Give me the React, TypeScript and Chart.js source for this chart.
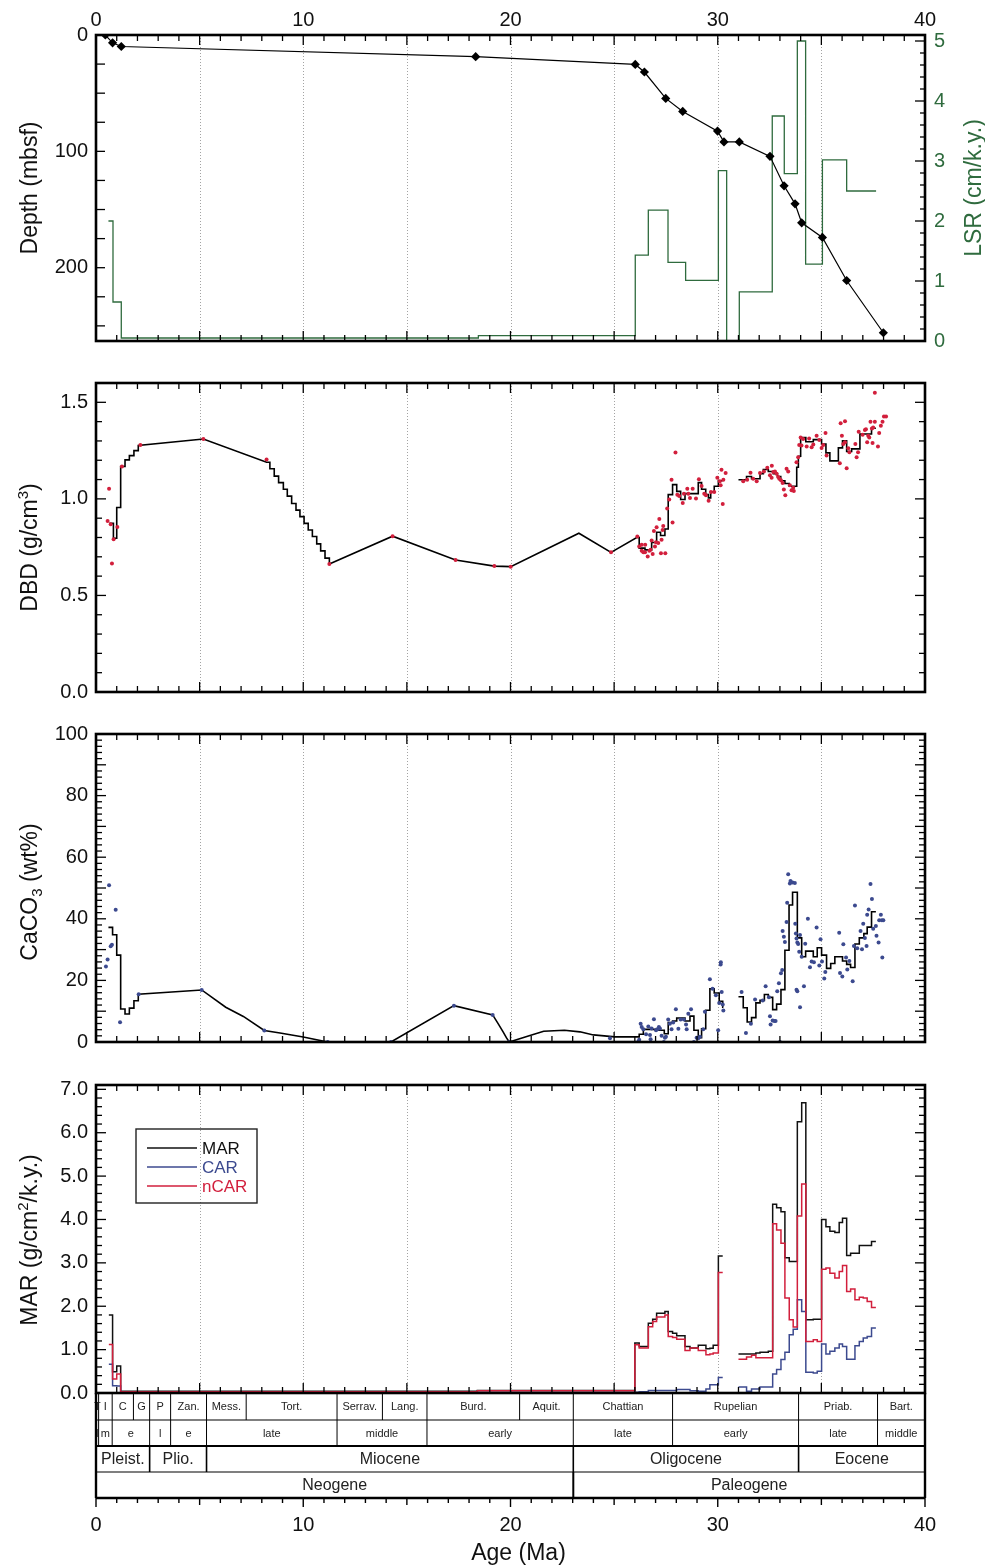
import React, { useEffect, useRef } from 'react';
import { Chart, registerables } from 'chart.js';

Chart.register(...registerables);

const FONT = '"Liberation Sans", Arial, Helvetica, sans-serif';
const W = 985;
const GREEN = '#2f6b3e';
const RED = '#d21f3c';
const BLUE = '#3c4a8f';

// ---------------- axis / tick values ----------------
const ageTicks = [0, 10, 20, 30, 40];
const gridAges = [5, 10, 15, 20, 25, 30, 35];

// ---------------- Panel 1: age-depth & LSR ----------------
const depthAge = [0.45, 0.8, 1.22, 18.32, 26.02, 26.46, 27.49, 28.31, 29.99, 30.3, 31.04, 32.52, 33.2, 33.73, 34.05, 35.05, 36.22, 37.99];
const depthMbsf = [0, 6.7, 9.9, 18.6, 25.3, 31.8, 54.5, 65.7, 82.6, 91.9, 91.9, 104.3, 129.6, 145.1, 161.4, 174, 211, 255.9];
const lsrEdges = [0.6, 0.82, 1.22, 18.45, 26.02, 26.65, 27.6, 28.45, 30.03, 30.43, 31.04, 32.63, 33.21, 33.84, 34.24, 35.05, 36.22, 37.64];
const lsrRate = [2.0, 0.65, 0.05, 0.09, 1.43, 2.18, 1.31, 1.01, 2.84, 0.0, 0.82, 3.75, 2.79, 5.0, 1.28, 3.02, 2.5];

// ---------------- Panel 2: DBD ----------------
const dbdEarlyEdges = [0.64, 0.84, 1.0, 1.19, 1.4, 1.61, 1.83, 2.04];
const dbdEarlyVals = [0.873, 0.796, 0.955, 1.168, 1.202, 1.224, 1.25];
const dbdMioAge1 = [2.04, 5.18, 8.23];
const dbdMioVal1 = [1.276, 1.31, 1.19];
const dbdTortEdges = [8.23, 8.39, 8.6, 8.81, 9.04, 9.23, 9.44, 9.65, 9.84, 10.04, 10.24, 10.44, 10.65, 10.84, 11.05, 11.26];
const dbdTortVals = [1.19, 1.156, 1.118, 1.084, 1.05, 1.014, 0.976, 0.942, 0.908, 0.873, 0.839, 0.805, 0.767, 0.731, 0.693];
const dbdMioAge2 = [11.26, 14.31, 17.35, 19.22, 20.01, 23.3, 24.85, 26.09];
const dbdMioVal2 = [0.663, 0.807, 0.683, 0.652, 0.649, 0.822, 0.723, 0.8];
const dbdOligEdges = [26.09, 26.21, 26.49, 26.81, 27.05, 27.24, 27.45, 27.61, 27.82, 28.02, 28.21, 28.42, 29.06, 29.22, 29.42, 29.55, 29.66, 29.83, 30.03, 30.24];
const dbdOligVals = [0.8, 0.745, 0.736, 0.774, 0.827, 0.81, 0.844, 1.022, 1.074, 1.039, 0.997, 1.027, 1.084, 1.05, 1.022, 1.005, 1.036, 1.065, 1.094];
const dbdEoEdges = [31.0, 31.39, 31.63, 32.04, 32.2, 32.44, 32.68, 32.88, 33.04, 33.24, 33.45, 33.81, 33.89, 34.0, 34.25, 34.61, 35.01, 35.22, 35.41, 35.82, 36.02, 36.22, 36.46, 36.86, 37.42, 37.63];
const dbdEoVals = [1.099, 1.116, 1.104, 1.13, 1.152, 1.142, 1.13, 1.115, 1.094, 1.08, 1.065, 1.164, 1.221, 1.318, 1.296, 1.307, 1.284, 1.238, 1.197, 1.264, 1.301, 1.245, 1.259, 1.336, 1.366];
const dbdSamples: [number, number][] = [
  [0.56, 0.885], [0.63, 1.053], [0.71, 0.868], [0.77, 0.666], [0.85, 0.791], [1.03, 0.854], [1.25, 1.168], [2.14, 1.279], [5.18, 1.31], [8.23, 1.204], [11.26, 0.663], [14.31, 0.807], [17.35, 0.683], [19.22, 0.652], [20.01, 0.649], [24.85, 0.723],
  [26.12, 0.805], [26.21, 0.753], [26.33, 0.762], [26.33, 0.731], [26.41, 0.724], [26.5, 0.762], [26.49, 0.724], [26.62, 0.702], [26.7, 0.731], [26.76, 0.736], [26.81, 0.784], [26.86, 0.714], [26.97, 0.753], [27.02, 0.776], [27.13, 0.771], [27.18, 0.896], [27.26, 0.719], [27.29, 0.788], [26.92, 0.834], [27.05, 0.853], [27.34, 0.839], [27.37, 0.86], [27.47, 0.719], [27.56, 0.95], [27.66, 0.997], [27.77, 1.099], [27.82, 0.878], [27.96, 1.24], [28.05, 1.022], [28.14, 1.015], [28.31, 0.979], [28.37, 1.027], [28.53, 1.053], [28.58, 1.027], [28.66, 1.005], [28.79, 1.053], [28.95, 1.002], [29.09, 1.101], [29.22, 1.067], [29.35, 1.027], [29.43, 1.019], [29.56, 0.99], [29.67, 1.036], [29.83, 1.036], [29.98, 1.11], [30.1, 1.091], [30.14, 1.07], [30.18, 1.151], [30.24, 0.974], [30.27, 1.099], [30.38, 1.134],
  [31.23, 1.091], [31.42, 1.099], [31.58, 1.135], [31.71, 1.104], [31.88, 1.091], [32.04, 1.134], [32.23, 1.142], [32.39, 1.161], [32.61, 1.171], [32.52, 1.122], [32.6, 1.11], [32.68, 1.139], [32.76, 1.142], [32.84, 1.13], [32.92, 1.113], [32.97, 1.104], [33.05, 1.096], [33.13, 1.082], [33.19, 1.048], [33.26, 1.019], [33.32, 1.156], [33.4, 1.142], [33.48, 1.07], [33.56, 1.045], [33.67, 1.041], [33.64, 1.057], [33.8, 1.19], [33.88, 1.216], [33.93, 1.279], [34.0, 1.318], [34.04, 1.276], [34.12, 1.31], [34.29, 1.271], [34.41, 1.313], [34.53, 1.267], [34.61, 1.281], [34.77, 1.327], [34.9, 1.305], [35.01, 1.264], [35.09, 1.279], [35.2, 1.341], [35.25, 1.224], [35.89, 1.185], [35.93, 1.392], [35.99, 1.327], [36.14, 1.402], [36.06, 1.284], [36.14, 1.293], [36.22, 1.159], [36.3, 1.262], [36.35, 1.241], [36.64, 1.284], [36.7, 1.216], [36.77, 1.241], [36.8, 1.348], [36.99, 1.332], [37.1, 1.356], [37.15, 1.361], [37.21, 1.293], [37.26, 1.327], [37.31, 1.318], [37.37, 1.399], [37.44, 1.365], [37.47, 1.289], [37.5, 1.37], [37.58, 1.399], [37.58, 1.55], [37.73, 1.271], [37.79, 1.341], [37.87, 1.378], [37.95, 1.399], [38.02, 1.426], [38.12, 1.426],
];

// ---------------- Panel 3: CaCO3 ----------------
const caEarlyEdges = [0.6, 0.8, 1.0, 1.19, 1.4, 1.61, 1.83, 2.04];
const caEarlyVals = [37.2, 34.8, 28.2, 10.7, 9.1, 11.0, 13.4];
const caMioAge = [2.04, 5.1, 6.26, 7.11, 8.12, 8.88, 10.0, 11.18, 14.23, 17.27, 19.14, 19.41, 19.65, 19.8, 19.94, 20.94, 21.6, 22.6, 23.35, 24.0, 25.04, 26.0];
const caMioVal = [15.5, 16.9, 11.3, 8.3, 3.75, 2.9, 1.6, 0, 0, 11.8, 8.8, 5.9, 3.2, 1.4, 0, 2.1, 3.5, 3.8, 3.3, 2.3, 1.66, 1.66];
const caOligEdges = [26.0, 26.21, 26.41, 27.05, 27.42, 27.61, 27.82, 28.02, 28.42, 28.66, 28.85, 29.06, 29.22, 29.42, 29.62, 29.83, 30.07, 30.24, 30.27];
const caOligVals = [1.66, 2.5, 4.1, 3.8, 2.7, 6.3, 6.8, 7.8, 6.8, 8.4, 3.8, 1.4, 4.3, 10.3, 17.3, 15.9, 13.2, 11.3];
const caEoEdges = [31.0, 31.23, 31.42, 31.63, 31.84, 32.04, 32.25, 32.44, 32.65, 32.84, 33.05, 33.24, 33.44, 33.61, 33.84, 34.05, 34.24, 34.61, 34.8, 35.01, 35.25, 35.45, 35.65, 36.02, 36.22, 36.41, 36.62, 36.83, 37.05, 37.21, 37.42, 37.63];
const caEoVals = [14.7, 11.1, 6.5, 7.9, 12.7, 13.5, 15.4, 14.5, 10.5, 12.3, 17.0, 29.8, 44.5, 48.6, 33.8, 27.7, 29.5, 27.7, 30.6, 28.2, 23.9, 25.5, 27.7, 26.3, 25.2, 24.2, 31.8, 33.8, 35.2, 37.3, 42.3];
const caSamples: [number, number][] = [
  [0.48, 24.5], [0.56, 26.8], [0.63, 50.9], [0.71, 31.1], [0.77, 31.6], [0.95, 42.9], [1.16, 6.4], [2.06, 15.5], [5.1, 16.9], [8.12, 3.75], [11.18, 0], [14.23, 0], [17.27, 11.8], [19.14, 8.8], [19.94, 0], [24.8, 1.2],
  [26.17, 0.2], [26.21, 0.7], [26.28, 5.9], [26.33, 4.9], [26.41, 4.1], [26.54, 2.5], [26.65, 5.0], [26.73, 2.3], [26.76, 0.9], [26.81, 4.4], [26.92, 7.4], [27.02, 3.8], [27.08, 4.1], [27.16, 4.9], [27.21, 4.4], [27.29, 2.0], [27.4, 0], [27.45, 1.4], [27.5, 1.7], [27.61, 7.3], [27.69, 5.9], [27.77, 4.1], [27.85, 6.3], [27.98, 10.6], [28.1, 4.3], [28.21, 7.3], [28.37, 7.3], [28.47, 5.7], [28.5, 4.1], [28.58, 9.2], [28.71, 10.6], [28.85, 0], [28.98, 1.4], [29.06, 1.2], [29.14, 1.7], [29.3, 4.1], [29.38, 9.8], [29.62, 20.4], [29.75, 17.3], [29.91, 15.2], [30.02, 3.8], [30.07, 12.7], [30.14, 25.2], [30.15, 25.9], [30.19, 16.2], [30.24, 12.2], [30.27, 10.2],
  [31.15, 16.2], [31.36, 2.9], [31.6, 5.9], [31.8, 13.8], [32.17, 13.5], [32.31, 18.1], [32.47, 14.5], [32.52, 8.4], [32.55, 5.7], [32.65, 7.0], [32.73, 6.8], [32.79, 6.8], [32.87, 16.5], [32.95, 19.1], [33.0, 0], [33.05, 22.3], [33.11, 23.4], [33.13, 36.0], [33.19, 34.2], [33.24, 32.5], [33.32, 39.0], [33.35, 45.2], [33.4, 54.5], [33.48, 51.5], [33.51, 52.3], [33.61, 51.8], [33.72, 51.6], [33.74, 38.4], [33.77, 35.2], [33.8, 33.6], [33.84, 32.3], [33.88, 31.8], [33.93, 29.3], [33.97, 34.7], [33.8, 17.0], [33.84, 16.5], [33.97, 11.3], [34.05, 27.7], [34.16, 18.1], [34.22, 31.9], [34.35, 40.0], [34.45, 24.3], [34.53, 26.1], [34.64, 25.9], [34.77, 37.2], [34.9, 24.8], [34.96, 33.4], [35.03, 26.1], [35.14, 20.6], [35.19, 22.7], [35.86, 35.5], [35.9, 22.4], [36.01, 21.3], [36.06, 31.7], [36.19, 27.4], [36.25, 23.5], [36.35, 26.3], [36.51, 19.7], [36.57, 31.2], [36.62, 44.3], [36.73, 30.4], [36.89, 36.0], [36.96, 30.1], [37.02, 38.4], [37.1, 33.8], [37.18, 31.2], [37.21, 41.3], [37.28, 43.0], [37.37, 51.3], [37.44, 46.4], [37.5, 36.8], [37.63, 37.7], [37.66, 34.5], [37.76, 32.3], [37.79, 39.5], [37.87, 41.3], [37.92, 39.5], [37.94, 27.4], [37.99, 39.5],
];

// ---------------- Panel 4: MAR / CAR / nCAR ----------------
const marEdges = [0.62, 0.8, 1.0, 1.19, 18.4, 26.0, 26.21, 26.65, 26.86, 27.05, 27.45, 27.61, 27.82, 28.02, 28.42, 28.66, 29.06, 29.43, 29.62, 29.78, 30.03, 30.24, 31.0, 31.39, 31.63, 31.84, 32.04, 32.44, 32.65, 32.84, 33.05, 33.24, 33.45, 33.64, 33.84, 34.05, 34.25, 34.61, 34.8, 35.01, 35.22, 35.41, 35.65, 35.86, 36.02, 36.22, 36.41, 36.62, 36.83, 37.02, 37.21, 37.42, 37.63];
const marTotal = [1.8, 0.49, 0.62, 0.04, 0.06, 1.15, 1.07, 1.61, 1.7, 1.84, 1.88, 1.42, 1.38, 1.32, 1.07, 1.04, 1.1, 1.02, 1.03, 1.1, 3.16, null, 0.9, 0.9, 0.9, 0.92, 0.94, 0.96, 4.35, 4.27, 4.18, 3.12, 3.03, 3.03, 6.25, 6.69, 1.69, 1.7, 1.7, 4.0, 3.83, 3.73, 3.7, 3.93, 4.03, 3.17, 3.22, 3.22, 3.4, 3.4, 3.4, 3.49];
const marCarb = [0.66, 0.17, 0.16, 0.005, 0.01, 0.02, 0.03, 0.06, 0.06, 0.06, 0.06, 0.06, 0.06, 0.08, 0.08, 0.05, 0.04, 0.09, 0.19, 0.19, 0.36, null, 0.14, 0.04, 0.09, 0.09, 0.14, 0.14, 0.44, 0.54, 0.77, 0.94, 1.34, 1.47, 2.15, 1.88, 0.48, 0.46, 0.5, 1.13, 0.9, 0.96, 1.04, 1.13, 1.07, 0.78, 0.78, 1.09, 1.19, 1.27, 1.3, 1.5];
const marNonCarb = [1.12, 0.32, 0.44, 0.03, 0.05, 1.11, 1.04, 1.53, 1.65, 1.75, 1.8, 1.3, 1.28, 1.24, 0.98, 1.04, 0.98, 0.88, 0.9, 0.92, 2.78, null, 0.78, 0.83, 0.87, 0.81, 0.81, 0.81, 3.9, 3.76, 3.45, 2.19, 1.69, 1.52, 4.08, 4.82, 1.19, 1.23, 1.19, 2.85, 2.88, 2.76, 2.65, 2.8, 2.94, 2.34, 2.4, 2.15, 2.21, 2.19, 2.11, 1.97];
const legendLabels = ['MAR', 'CAR', 'nCAR'];
const legendColors = ['#111111', BLUE, RED];

// ---------------- Chronostratigraphy ----------------
const stageEdges = [0, 0.126, 0.781, 1.806, 2.588, 3.6, 5.333, 7.246, 11.63, 13.82, 15.97, 20.44, 23.03, 27.82, 33.9, 37.71, 40];
const stageNames = ['T', 'I', 'C', 'G', 'P', 'Zan.', 'Mess.', 'Tort.', 'Serrav.', 'Lang.', 'Burd.', 'Aquit.', 'Chattian', 'Rupelian', 'Priab.', 'Bart.'];
const subEdges = [0, 0.126, 0.781, 2.588, 3.6, 5.333, 11.63, 15.97, 23.03, 27.82, 33.9, 37.71, 40];
const subNames = ['l', 'm', 'e', 'l', 'e', 'late', 'middle', 'early', 'late', 'early', 'late', 'middle'];
const epochEdges = [0, 2.588, 5.333, 23.03, 33.9, 40];
const epochNames = ['Pleist.', 'Plio.', 'Miocene', 'Oligocene', 'Eocene'];
const periodEdges = [0, 23.03, 40];
const periodNames = ['Neogene', 'Paleogene'];

// ---------------- helpers ----------------
type Pt = { x: number; y: number | null };
const pairs = (a: [number, number][]): Pt[] => a.map(([x, y]) => ({ x, y }));
const zip = (xs: number[], ys: (number | null)[]): Pt[] => xs.map((x, i) => ({ x, y: ys[i] }));
function stepVertices(edges: number[], vals: (number | null)[]): Pt[] {
  const out: Pt[] = [];
  vals.forEach((v, i) => {
    if (v === null) {
      out.push({ x: (edges[i] + edges[i + 1]) / 2, y: null });
      return;
    }
    out.push({ x: edges[i], y: v }, { x: edges[i + 1], y: v });
  });
  return out;
}
const gapAt = (a: number, b: number): Pt => ({ x: (a + b) / 2, y: null });

type Piece = { t: string; sup?: boolean; sub?: boolean };
function drawRich(ctx: any, pieces: Piece[], x: number, y: number, size: number, rotate: boolean, color: string) {
  ctx.save();
  ctx.translate(x, y);
  if (rotate) ctx.rotate(-Math.PI / 2);
  ctx.fillStyle = color;
  ctx.textBaseline = 'alphabetic';
  ctx.textAlign = 'left';
  const fontFor = (p: Piece) => `${p.sup || p.sub ? Math.round(size * 0.65) : size}px ${FONT}`;
  const widths = pieces.map((p) => {
    ctx.font = fontFor(p);
    return ctx.measureText(p.t).width;
  });
  const total = widths.reduce((s, w) => s + w, 0);
  let cx = -total / 2;
  pieces.forEach((p, i) => {
    ctx.font = fontFor(p);
    const dy = p.sup ? -size * 0.4 : p.sub ? size * 0.22 : 0;
    ctx.fillText(p.t, cx, dy);
    cx += widths[i];
  });
  ctx.restore();
}

function seg(ctx: any, x1: number, y1: number, x2: number, y2: number) {
  ctx.beginPath();
  ctx.moveTo(x1, y1);
  ctx.lineTo(x2, y2);
  ctx.stroke();
}

type YTick = { id: string; side: 'left' | 'right'; minor: number; major: number; minorLen: number; majorLen: number };
type TitleSpec = { pieces: Piece[]; pos: (a: any) => { x: number; y: number }; color?: string; rotate?: boolean; size?: number };

function deco(yTicks: YTick[], titles: TitleSpec[], extra?: (chart: any) => void) {
  return {
    id: 'deco',
    beforeDatasetsDraw(chart: any) {
      const { ctx, chartArea: a, scales } = chart;
      const xs = scales.x;
      ctx.save();
      ctx.strokeStyle = '#a3a3a3';
      ctx.lineWidth = 1;
      ctx.setLineDash([1, 2]);
      gridAges.forEach((v) => {
        const px = Math.round(xs.getPixelForValue(v)) + 0.5;
        seg(ctx, px, a.top, px, a.bottom);
      });
      ctx.restore();
    },
    afterDatasetsDraw(chart: any) {
      const { ctx, chartArea: a, scales } = chart;
      const xs = scales.x;
      ctx.save();
      ctx.strokeStyle = '#000';
      ctx.lineWidth = 1.3;
      for (let k = 1; k < 40; k++) {
        const px = xs.getPixelForValue(k);
        const len = k % 5 === 0 ? 10 : 6;
        seg(ctx, px, a.top, px, a.top + len);
        seg(ctx, px, a.bottom - len, px, a.bottom);
      }
      yTicks.forEach((t) => {
        const s = scales[t.id];
        const n = Math.round((s.max - s.min) / t.minor) + 1;
        for (let i = 0; i <= n; i++) {
          const v = s.min + i * t.minor;
          if (v > s.max + 1e-9) break;
          const py = s.getPixelForValue(v);
          if (py < a.top + 1.5 || py > a.bottom - 1.5) continue;
          const r = v / t.major;
          const len = Math.abs(r - Math.round(r)) < 1e-6 ? t.majorLen : t.minorLen;
          const x0 = t.side === 'left' ? a.left : a.right - len;
          seg(ctx, x0, py, x0 + len, py);
        }
      });
      ctx.lineWidth = 2.6;
      ctx.strokeRect(a.left, a.top, a.right - a.left, a.bottom - a.top);
      titles.forEach((t) => {
        const p = t.pos(a);
        drawRich(ctx, t.pieces, p.x, p.y, t.size ?? 23, t.rotate !== false, t.color ?? '#111');
      });
      if (extra) extra(chart);
      ctx.restore();
    },
  };
}

const tickFont = { family: FONT, size: 20 };
const noGrid = { display: false, drawTicks: false };
const noBorder = { display: false };

function xScale(extra: any = {}) {
  return {
    type: 'linear',
    min: 0,
    max: 40,
    grid: noGrid,
    border: noBorder,
    afterBuildTicks: (s: any) => {
      s.ticks = ageTicks.map((v) => ({ value: v }));
    },
    ticks: { font: tickFont, color: '#111', maxRotation: 0, autoSkip: false, padding: 3 },
    ...extra,
  };
}

function yScale(min: number, max: number, step: number, width: number, position: string, fmt: (v: number) => string, extra: any = {}) {
  return {
    type: 'linear',
    position,
    min,
    max,
    grid: noGrid,
    border: noBorder,
    ticks: { stepSize: step, includeBounds: false, font: tickFont, color: '#111', padding: 8, callback: (v: number) => fmt(v) },
    afterFit: (s: any) => {
      s.width = width;
    },
    ...extra,
  };
}

function baseOptions(padding: any, scales: any) {
  return {
    responsive: false,
    maintainAspectRatio: false,
    animation: false,
    devicePixelRatio: 1,
    events: [],
    layout: { padding },
    plugins: { legend: { display: false }, tooltip: { enabled: false }, title: { display: false } },
    scales,
  };
}

const lineDs = (data: Pt[], color: string, width: number, extra: any = {}) => ({
  data,
  showLine: true,
  borderColor: color,
  borderWidth: width,
  pointRadius: 0,
  pointHoverRadius: 0,
  fill: false,
  tension: 0,
  spanGaps: false,
  ...extra,
});
const dotDs = (data: Pt[], color: string, extra: any = {}) => ({
  data,
  showLine: false,
  pointRadius: 2,
  pointBackgroundColor: color,
  pointBorderColor: color,
  pointBorderWidth: 0,
  ...extra,
});

// ---------------- chart configs ----------------
function depthConfig() {
  return {
    type: 'scatter',
    data: {
      datasets: [
        lineDs(zip(depthAge, depthMbsf), '#000', 1.2, {
          yAxisID: 'y',
          pointRadius: 4.6,
          pointStyle: 'rectRot',
          pointBackgroundColor: '#000',
          pointBorderColor: '#000',
          pointBorderWidth: 0,
          order: 0,
        }),
        lineDs(stepVertices(lsrEdges, lsrRate), GREEN, 1.3, { yAxisID: 'y2', order: 1 }),
      ],
    },
    options: baseOptions(
      { left: 0, right: 0, top: 0, bottom: 16 },
      {
        x: xScale({
          position: 'top',
          afterFit: (s: any) => {
            s.height = 35;
            s.paddingLeft = 0;
            s.paddingRight = 0;
          },
        }),
        y: yScale(0, 263, 100, 96, 'left', (v) => String(Math.round(v)), { reverse: true }),
        y2: yScale(0, 5.1, 1, 60, 'right', (v) => String(Math.round(v)), {
          ticks: { stepSize: 1, includeBounds: false, font: tickFont, color: GREEN, padding: 9, callback: (v: number) => String(Math.round(v)) },
        }),
      }
    ),
    plugins: [
      deco(
        [
          { id: 'y', side: 'left', minor: 25, major: 100, minorLen: 9, majorLen: 9 },
          { id: 'y2', side: 'right', minor: 0.2, major: 1, minorLen: 5, majorLen: 10 },
        ],
        [
          { pieces: [{ t: 'Depth (mbsf)' }], pos: (a) => ({ x: 37, y: (a.top + a.bottom) / 2 }) },
          { pieces: [{ t: 'LSR (cm/k.y.)' }], pos: (a) => ({ x: 981, y: (a.top + a.bottom) / 2 }), color: GREEN },
        ]
      ),
    ],
  };
}

function dbdConfig() {
  const line = [
    ...stepVertices(dbdEarlyEdges, dbdEarlyVals),
    ...zip(dbdMioAge1, dbdMioVal1),
    ...stepVertices(dbdTortEdges, dbdTortVals),
    ...zip(dbdMioAge2, dbdMioVal2),
    ...stepVertices(dbdOligEdges, dbdOligVals),
    gapAt(30.24, 31.0),
    ...stepVertices(dbdEoEdges, dbdEoVals),
  ];
  return {
    type: 'scatter',
    data: {
      datasets: [dotDs(pairs(dbdSamples), RED, { order: 0 }), lineDs(line, '#000', 1.6, { order: 1 })],
    },
    options: baseOptions(
      { left: 0, right: 60, top: 21, bottom: 20 },
      {
        x: xScale({ display: false }),
        y: yScale(0, 1.6, 0.5, 96, 'left', (v) => v.toFixed(1)),
      }
    ),
    plugins: [
      deco(
        [
          { id: 'y', side: 'left', minor: 0.1, major: 0.5, minorLen: 6, majorLen: 10 },
          { id: 'y', side: 'right', minor: 0.1, major: 0.5, minorLen: 6, majorLen: 10 },
        ],
        [{ pieces: [{ t: 'DBD (g/cm' }, { t: '3', sup: true }, { t: ')' }], pos: (a) => ({ x: 37, y: (a.top + a.bottom) / 2 + 10 }) }]
      ),
    ],
  };
}

function caConfig() {
  const line = [
    ...stepVertices(caEarlyEdges, caEarlyVals),
    ...zip(caMioAge, caMioVal),
    ...stepVertices(caOligEdges, caOligVals),
    gapAt(30.27, 31.0),
    ...stepVertices(caEoEdges, caEoVals),
  ];
  return {
    type: 'scatter',
    data: {
      datasets: [dotDs(pairs(caSamples), BLUE, { order: 0 }), lineDs(line, '#000', 1.6, { order: 1 })],
    },
    options: baseOptions(
      { left: 0, right: 60, top: 22, bottom: 17.5 },
      {
        x: xScale({ display: false }),
        y: yScale(0, 100, 20, 96, 'left', (v) => String(Math.round(v))),
      }
    ),
    plugins: [
      deco(
        [
          { id: 'y', side: 'left', minor: 2, major: 10, minorLen: 6, majorLen: 10 },
          { id: 'y', side: 'right', minor: 2, major: 10, minorLen: 6, majorLen: 10 },
        ],
        [{ pieces: [{ t: 'CaCO' }, { t: '3', sub: true }, { t: ' (wt%)' }], pos: (a) => ({ x: 37, y: (a.top + a.bottom) / 2 + 4 }) }]
      ),
    ],
  };
}

function drawChrono(chart: any) {
  const { ctx, chartArea: a, scales } = chart;
  const x = scales.x;
  const px = (v: number) => x.getPixelForValue(v);
  const rows = [
    { edges: stageEdges, names: stageNames, h: 27, size: 11, w: 1, bw: 1.2 },
    { edges: subEdges, names: subNames, h: 26, size: 11, w: 1, bw: 2.2 },
    { edges: epochEdges, names: epochNames, h: 26, size: 16, w: 1.6, bw: 1.2 },
    { edges: periodEdges, names: periodNames, h: 26, size: 16, w: 2, bw: 2.4 },
  ];
  const y0 = a.bottom;
  let y = y0;
  ctx.save();
  ctx.strokeStyle = '#000';
  ctx.fillStyle = '#222';
  ctx.textAlign = 'center';
  ctx.textBaseline = 'middle';
  rows.forEach((r) => {
    const yb = y + r.h;
    ctx.lineWidth = r.w;
    for (let i = 1; i < r.edges.length - 1; i++) seg(ctx, px(r.edges[i]), y, px(r.edges[i]), yb);
    ctx.font = `${r.size}px ${FONT}`;
    r.names.forEach((n, i) => {
      ctx.fillText(n, (px(r.edges[i]) + px(r.edges[i + 1])) / 2, (y + yb) / 2 + 0.5);
    });
    ctx.lineWidth = r.bw;
    seg(ctx, a.left, yb, a.right, yb);
    y = yb;
  });
  ctx.lineWidth = 2.4;
  seg(ctx, a.left, y0, a.left, y);
  seg(ctx, a.right, y0, a.right, y);
  ctx.lineWidth = 1.4;
  for (let k = 0; k <= 40; k++) {
    const len = k % 10 === 0 ? 9 : k % 5 === 0 ? 7 : 5;
    seg(ctx, px(k), y, px(k), y + len);
  }
  // legend
  const lx = a.left + 40;
  const ly = a.top + 44;
  ctx.lineWidth = 1.4;
  ctx.strokeStyle = '#222';
  ctx.strokeRect(lx, ly, 121, 74);
  ctx.font = `17px ${FONT}`;
  ctx.textAlign = 'left';
  legendLabels.forEach((lab, i) => {
    const yy = ly + 19 + i * 19;
    ctx.strokeStyle = legendColors[i];
    ctx.lineWidth = 1.5;
    seg(ctx, lx + 11, yy, lx + 61, yy);
    ctx.fillStyle = legendColors[i];
    ctx.fillText(lab, lx + 66, yy + 1);
  });
  ctx.restore();
}

function marConfig() {
  return {
    type: 'scatter',
    data: {
      datasets: [
        lineDs(stepVertices(marEdges, marNonCarb), RED, 1.5, { order: 0 }),
        lineDs(stepVertices(marEdges, marCarb), BLUE, 1.5, { order: 1 }),
        lineDs(stepVertices(marEdges, marTotal), '#111', 1.5, { order: 2 }),
      ],
    },
    options: baseOptions(
      { left: 0, right: 60, top: 23, bottom: 0 },
      {
        x: xScale({
          position: 'bottom',
          ticks: { font: tickFont, color: '#111', maxRotation: 0, autoSkip: false, padding: 120 },
          afterFit: (s: any) => {
            s.height = 173;
            s.paddingLeft = 0;
            s.paddingRight = 0;
          },
        }),
        y: yScale(0, 7.1, 1, 96, 'left', (v) => v.toFixed(1)),
      }
    ),
    plugins: [
      deco(
        [
          { id: 'y', side: 'left', minor: 0.2, major: 1, minorLen: 6, majorLen: 10 },
          { id: 'y', side: 'right', minor: 0.2, major: 1, minorLen: 6, majorLen: 10 },
        ],
        [
          { pieces: [{ t: 'MAR (g/cm' }, { t: '2', sup: true }, { t: '/k.y.)' }], pos: (a) => ({ x: 37, y: (a.top + a.bottom) / 2 + 1 }) },
          { pieces: [{ t: 'Age (Ma)' }], pos: (a) => ({ x: (a.left + a.right) / 2 + 8, y: a.bottom + 167 }), rotate: false },
        ],
        drawChrono
      ),
    ],
  };
}

function Panel({ top, height, make }: { top: number; height: number; make: () => any }) {
  const ref = useRef<HTMLCanvasElement>(null);
  useEffect(() => {
    const chart = new Chart(ref.current as HTMLCanvasElement, make());
    return () => chart.destroy();
  }, []);
  return (
    <canvas
      ref={ref}
      width={W}
      height={height}
      style={{ position: 'absolute', left: 0, top, width: W, height, display: 'block' }}
    />
  );
}

export default function App() {
  return (
    <div style={{ position: 'absolute', left: 0, top: 0, width: W, height: 1566, background: '#fff', overflow: 'hidden' }}>
      <Panel top={0} height={362} make={depthConfig} />
      <Panel top={362} height={350} make={dbdConfig} />
      <Panel top={712} height={350} make={caConfig} />
      <Panel top={1062} height={504} make={marConfig} />
    </div>
  );
}
